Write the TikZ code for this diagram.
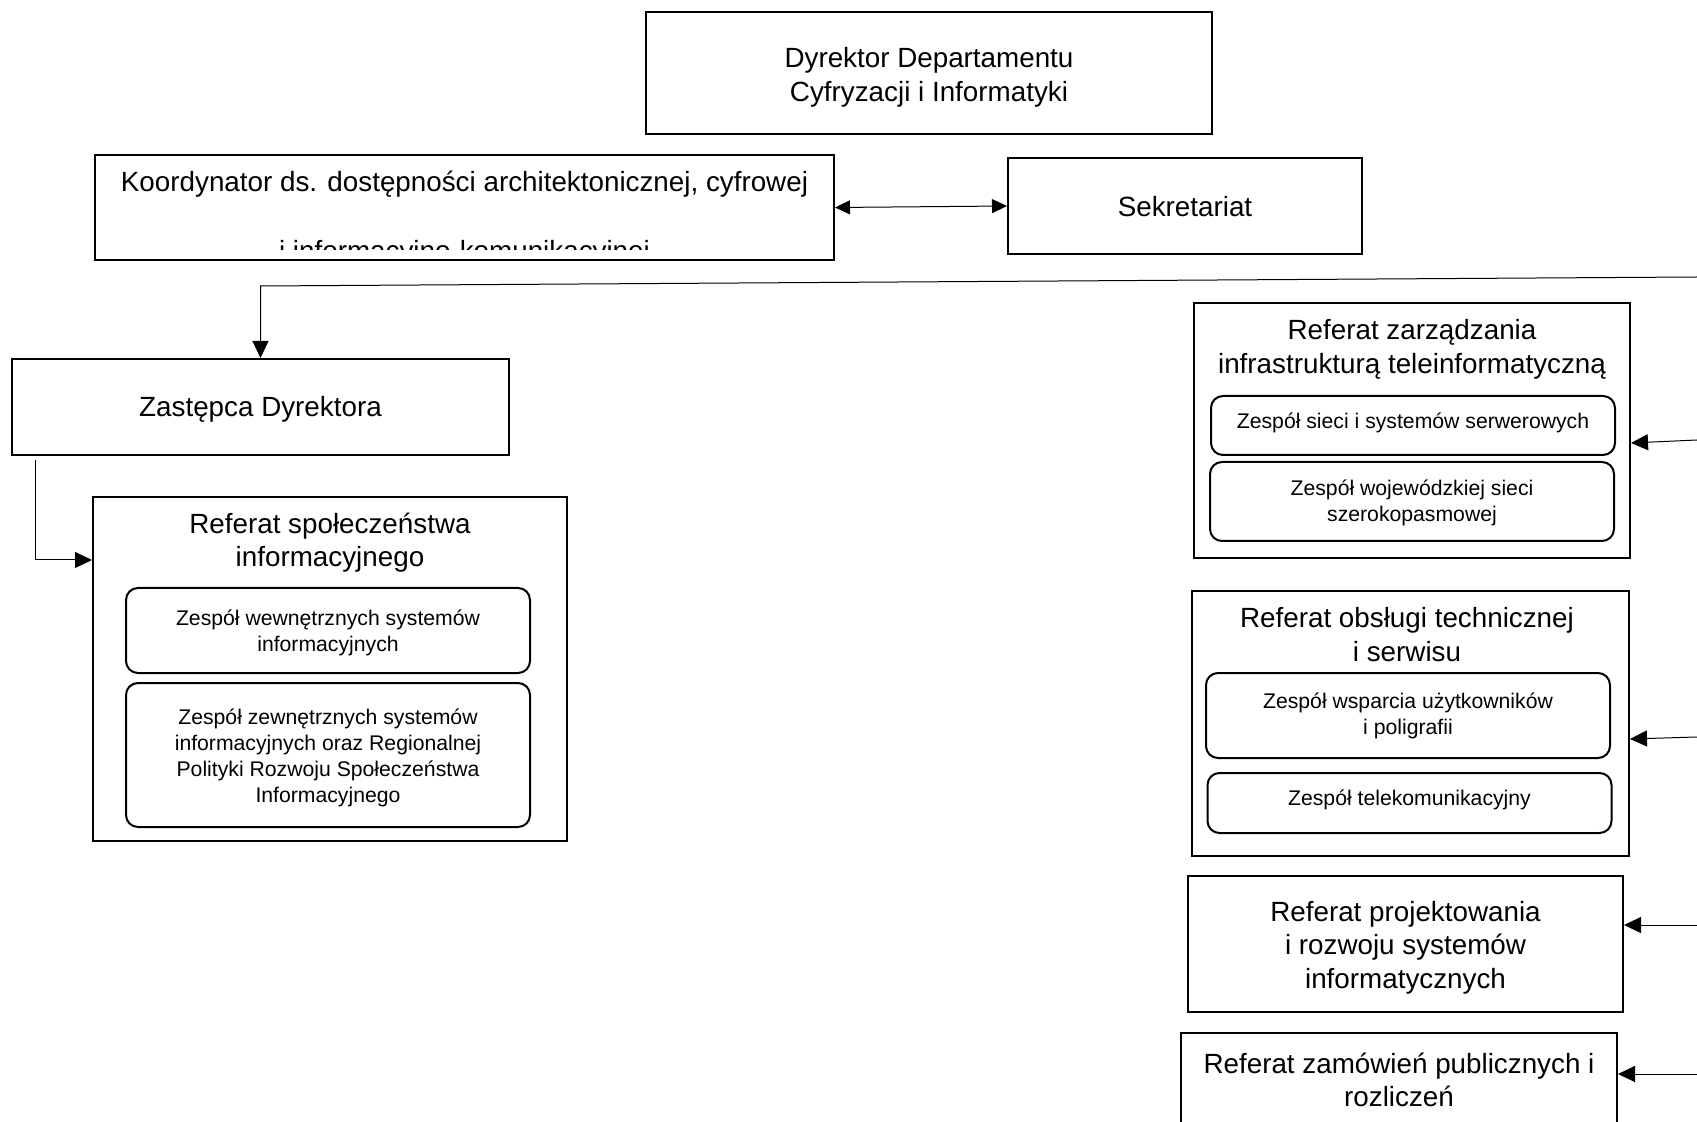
\documentclass[tikz,border=0pt]{standalone}
\usepackage{fontspec}
\setmainfont{Liberation Sans}
\usetikzlibrary{arrows.meta}

\newcommand{\bigtext}{\fontsize{13.9}{16.8}\selectfont}
\newcommand{\smalltext}{\fontsize{10.6}{13}\selectfont}

\begin{document}
\begin{tikzpicture}[x=0.5pt,y=-0.5pt,font=\bigtext,
  unitbox/.style={draw, line width=1pt, inner sep=0pt},
  teambox/.style={draw, line width=1pt, rounded corners=6pt, minimum width=202pt, inner sep=0pt},
  heading/.style={align=center, inner sep=0pt},
  teamtext/.style={heading, font=\smalltext},
  arrowline/.style={line width=0.5pt, -{Triangle[length=8.5pt,width=8pt]}},
  botharrow/.style={line width=0.5pt,
    {Triangle[length=7.5pt,width=7pt]}-{Triangle[length=7.5pt,width=7pt]}}]

  \clip[use as bounding box] (0,0) rectangle (1697,1122);

  % top
  \node[unitbox, minimum width=283pt, minimum height=61pt] (dyrektor) at (929,73) {};
  \node[heading] (dyrektor text) at (929,77.5) {Dyrektor Departamentu\\Cyfryzacji i Informatyki};

  \node[unitbox, minimum width=369.5pt, minimum height=52.5pt] (koordynator) at (464.5,207.5) {};
  \node[anchor=base] (koordynator line1) at (464.5,192)
    {Koordynator ds. dostępności architektonicznej, cyfrowej};
  \begin{scope}
    \clip (95,155) rectangle (834,250);
    \node[anchor=base] (koordynator line2) at (464.5,261) {i informacyjno-komunikacyjnej};
  \end{scope}

  \node[unitbox, minimum width=177pt, minimum height=48pt] (sekretariat) at (1185,206) {};
  \node[heading] (sekretariat text) at (1185,207) {Sekretariat};
  \draw[botharrow] (koordynator.east) -- (sekretariat.west);

  % left
  \node[unitbox, minimum width=248.5pt, minimum height=48pt] (zastepca) at (260.5,407) {};
  \node[heading] (zastepca text) at (260.5,409.2) {Zastępca Dyrektora};
  \coordinate (prawo) at (1697,277);
  \coordinate (zalamanie) at (260.5,286);
  \draw[arrowline] (prawo) -- (zalamanie) -- (zastepca.north);

  \node[unitbox, minimum width=237pt, minimum height=172pt] (spoleczenstwo) at (330,669) {};
  \node[heading] (spoleczenstwo text) at (330,542.7) {Referat społeczeństwa\\informacyjnego};
  \node[teambox, minimum height=42.5pt] (wewnetrzne) at (328,630.5) {};
  \node[teamtext] (wewnetrzne text) at (328,632.7) {Zespół wewnętrznych systemów\\informacyjnych};
  \node[teambox, minimum height=72pt] (zewnetrzne) at (328,755) {};
  \node[teamtext] (zewnetrzne text) at (328,757.7)
    {Zespół zewnętrznych systemów\\informacyjnych oraz Regionalnej\\Polityki Rozwoju Społeczeństwa\\Informacyjnego};
  \draw[arrowline] ([xshift=12pt,yshift=-2pt]zastepca.south west) |- ([yshift=54.5pt]spoleczenstwo.west);

  % right
  \node[unitbox, minimum width=218pt, minimum height=127.5pt] (infrastruktura) at (1412,430.5) {};
  \node[heading] (infrastruktura text) at (1412,349.2)
    {Referat zarządzania\\infrastrukturą teleinformatyczną};
  \node[teambox, minimum height=29.5pt] (serwery) at (1413,425.5) {};
  \node[teamtext] (serwery text) at (1413,423.3) {Zespół sieci i systemów serwerowych};
  \node[teambox, minimum height=39.5pt] (szerokopasmowa) at (1412,501.5) {};
  \node[teamtext] (szerokopasmowa text) at (1412,502.5) {Zespół wojewódzkiej sieci\\szerokopasmowej};
  \coordinate (prawo1) at (1697,440);
  \draw[arrowline] (prawo1) -- ([yshift=-6.25pt]infrastruktura.east);

  \node[unitbox, minimum width=218.5pt, minimum height=132.5pt] (obsluga) at (1410.5,723.5) {};
  \node[heading] (obsluga text) at (1407,634.5) {Referat obsługi technicznej\\i serwisu};
  \node[teambox, minimum height=42.5pt] (wsparcie) at (1408,715.5) {};
  \node[teamtext] (wsparcie text) at (1408,715.5) {Zespół wsparcia użytkowników\\i poligrafii};
  \node[teambox, minimum height=30pt] (telekomunikacja) at (1409.5,803) {};
  \node[teamtext] (telekomunikacja text) at (1409.5,799.7) {Zespół telekomunikacyjny};
  \coordinate (prawo2) at (1697,737);
  \draw[arrowline] (prawo2) -- ([yshift=-7.75pt]obsluga.east);

  \node[unitbox, minimum width=217.5pt, minimum height=68pt] (projektowanie) at (1405.5,944) {};
  \node[heading] (projektowanie text) at (1405.5,947.8)
    {Referat projektowania\\i rozwoju systemów\\informatycznych};
  \coordinate (prawo3) at (1697,925);
  \draw[arrowline] (prawo3) -- ([yshift=9.5pt]projektowanie.east);

  \node[unitbox, minimum width=218pt, minimum height=47pt] (zamowienia) at (1399,1080) {};
  \node[heading] (zamowienia text) at (1399,1080) {Referat zamówień publicznych i\\rozliczeń};
  \coordinate (prawo4) at (1697,1074);
  \draw[arrowline] (prawo4) -- ([yshift=3pt]zamowienia.east);

\end{tikzpicture}
\end{document}
